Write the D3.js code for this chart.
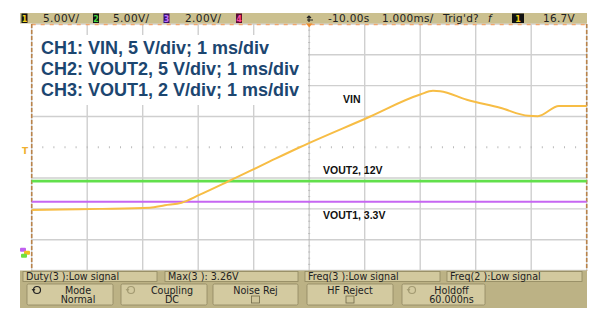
<!DOCTYPE html>
<html>
<head>
<meta charset="utf-8">
<script src="https://cdn.jsdelivr.net/npm/d3@7/dist/d3.min.js"></script>
<style>
  html, body { margin: 0; padding: 0; background: #fff; }
  svg { display: block; }
  .scope { font-family: "DejaVu Sans", sans-serif; }
</style>
</head>
<body>
<div id="chart"></div>
<script>
// time base: 1 ms/div, 10 divisions
var timeMs = [-5.0, -4.45, -3.77, -2.87, -2.6, -2.3, -1.97, -1.46, -0.71, -0.17, 1.04, 2.0, 2.23, 2.36, 2.84, 3.44, 3.95, 4.12, 4.5, 5.0];
// CH1 VIN, volts
var vin = [6.9, 7.0, 7.1, 7.3, 7.7, 8.1, 9.4, 11.55, 14.8, 17.1, 21.85, 25.65, 26.25, 26.2, 24.8, 23.5, 22.2, 22.15, 23.8, 23.8];
// CH2 VOUT2 and CH3 VOUT1, volts
var flatTime = [-5.0, 5.0];
var vout2 = [11.6, 11.6];
var vout1 = [3.3, 3.3];

var channelLabels = ["5.00V/", "5.00V/", "2.00V/"];
var notes = ["CH1: VIN, 5 V/div; 1 ms/div", "CH2: VOUT2, 5 V/div; 1 ms/div", "CH3: VOUT1, 2 V/div; 1 ms/div"];
var statusText = ["Duty(3 ):Low signal", "Max(3 ): 3.26V", "Freq(3 ):Low signal", "Freq(2 ):Low signal"];
var buttons = [["Mode", "Normal"], ["Coupling", "DC"], ["Noise Rej", ""], ["HF Reject", ""], ["Holdoff", "60.000ns"]];

(function () {
    var width = 600, height = 317;
    var left = 31.7, right = 586.7, plotTop = 24, plotBottom = 270.5;
    var groundDiv = -3.42;

    var svg = d3.select("#chart").append("svg")
        .attr("width", width).attr("height", height)
        .attr("class", "scope");

    var x = d3.scaleLinear().domain([-5, 5]).range([left, right]);
    var div = d3.scaleLinear().domain([-4, 4]).range([plotBottom, plotTop]);

    function voltScale(vPerDiv) {
        return d3.scaleLinear()
            .domain([(-4 - groundDiv) * vPerDiv, (4 - groundDiv) * vPerDiv])
            .range([plotBottom, plotTop]);
    }
    var y1 = voltScale(5), y2 = voltScale(5), y3 = voltScale(2);

    // grid
    var grid = svg.append("g");
    grid.selectAll("line.v").data(d3.range(-5, 6)).enter().append("line")
        .attr("x1", function (d) { return x(d); }).attr("x2", function (d) { return x(d); })
        .attr("y1", plotTop).attr("y2", plotBottom)
        .attr("stroke", "#cfcfcf").attr("stroke-width", 1.4);
    grid.selectAll("line.h").data(d3.range(-4, 5)).enter().append("line")
        .attr("y1", function (d) { return div(d); }).attr("y2", function (d) { return div(d); })
        .attr("x1", left).attr("x2", right)
        .attr("stroke", function (d) { return d === 0 ? "none" : "#cfcfcf"; })
        .attr("stroke-width", 1.4);

    // center minor ticks
    grid.selectAll("line.tx").data(d3.range(-5, 5.01, 0.2)).enter().append("line")
        .attr("x1", function (d) { return x(d); }).attr("x2", function (d) { return x(d); })
        .attr("y1", div(0) - 1).attr("y2", div(0) + 1)
        .attr("stroke", "#bbbbbb").attr("stroke-width", 1);
    grid.selectAll("line.ty").data(d3.range(-4, 4.01, 0.2)).enter().append("line")
        .attr("y1", function (d) { return div(d); }).attr("y2", function (d) { return div(d); })
        .attr("x1", x(0) - 1).attr("x2", x(0) + 1)
        .attr("stroke", "#bbbbbb").attr("stroke-width", 1);

    // borders
    svg.append("line").attr("x1", left).attr("x2", right).attr("y1", plotTop + 0.5).attr("y2", plotTop + 0.5)
        .attr("stroke", "#f2a56a").attr("stroke-width", 1.5).attr("stroke-dasharray", "4,5");
    [left, right].forEach(function (px) {
        svg.append("line").attr("x1", px).attr("x2", px).attr("y1", plotTop).attr("y2", plotBottom)
            .attr("stroke", "#b9834a").attr("stroke-width", 1.6).attr("stroke-dasharray", "4,2");
    });

    // trigger position marker
    svg.append("path")
        .attr("d", "M" + (x(0) - 3.5) + "," + (plotTop - 1) + "L" + (x(0) + 3.5) + "," + (plotTop - 1) + "L" + x(0) + "," + (plotTop + 3.5) + "Z")
        .attr("fill", "#f08a2a");

    // trigger level marker
    svg.append("text").attr("x", 22).attr("y", y1(16.7) + 4)
        .attr("font-size", 9).attr("font-weight", "bold").attr("fill", "#f0b030").text("T");

    // ground markers
    [["#c060f0", 20, -3], ["#f0c020", 24, 0], ["#70e040", 21, 3]].forEach(function (m) {
        svg.append("rect").attr("x", m[1]).attr("y", y1(0) - 2 + m[2])
            .attr("width", 6).attr("height", 4).attr("rx", 1).attr("fill", m[0]);
    });

    // traces
    var line = d3.line().curve(d3.curveMonotoneX);
    svg.append("path")
        .attr("d", line(flatTime.map(function (t, i) { return [x(t), y3(vout1[i])]; })))
        .attr("fill", "none").attr("stroke", "#c666f2").attr("stroke-width", 2);
    svg.append("path")
        .attr("d", line(flatTime.map(function (t, i) { return [x(t), y2(vout2[i])]; })))
        .attr("fill", "none").attr("stroke", "#62e04c").attr("stroke-width", 2.6);
    svg.append("path")
        .attr("d", line(timeMs.map(function (t, i) { return [x(t), y1(vin[i])]; })))
        .attr("fill", "none").attr("stroke", "#f7bd45").attr("stroke-width", 2);

    // trace labels
    var lab = svg.append("g").attr("font-family", "Liberation Sans, Arial, sans-serif")
        .attr("font-weight", "bold").attr("font-size", 10.5).attr("fill", "#111");
    lab.append("text").attr("x", 343).attr("y", 103).text("VIN");
    lab.append("text").attr("x", 323).attr("y", 173.5).text("VOUT2, 12V");
    lab.append("text").attr("x", 323).attr("y", 219).text("VOUT1, 3.3V");

    // annotation box
    svg.append("rect").attr("x", 33).attr("y", 35).attr("width", 275).attr("height", 70).attr("fill", "#fff");
    svg.append("g").selectAll("text").data(notes).enter().append("text")
        .attr("x", 41).attr("y", function (d, i) { return 53.5 + i * 21; })
        .attr("font-family", "Liberation Sans, Arial, sans-serif")
        .attr("font-weight", "bold").attr("font-size", 18).attr("fill", "#1c4670")
        .text(function (d) { return d; });

    // top status bar
    var bar = svg.append("g");
    bar.append("rect").attr("x", 20).attr("y", 13).attr("width", 567).attr("height", 10.5).attr("fill", "#cbc08f");
    var chBoxes = [[21.5, "#111", "#f2d21c", "1"], [93, "#111", "#45d640", "2"], [163.5, "#3a106a", "#c070ff", "3"], [236, "#5a0a30", "#ff4aa0", "4"]];
    chBoxes.forEach(function (b) {
        bar.append("rect").attr("x", b[0]).attr("y", 13.5).attr("width", 6).attr("height", 9.5).attr("fill", b[1]);
        bar.append("text").attr("x", b[0] + 3).attr("y", 21.5).attr("text-anchor", "middle")
            .attr("font-size", 8).attr("font-weight", "bold").attr("fill", b[2]).text(b[3]);
    });
    [43, 113, 185].forEach(function (px, i) {
        bar.append("text").attr("x", px).attr("y", 22).attr("font-size", 10.5).attr("fill", "#222")
            .attr("letter-spacing", 0.4).text(channelLabels[i]);
    });
    var topRight = [[328, "-10.00s"], [382, "1.000ms/"], [443, "Trig'd?"], [543, "16.7V"]];
    topRight.forEach(function (t) {
        bar.append("text").attr("x", t[0]).attr("y", 22).attr("font-size", 10.5).attr("fill", "#222")
            .attr("letter-spacing", 0.3).text(t[1]);
    });
    bar.append("text").attr("x", 488).attr("y", 22).attr("font-size", 10).attr("font-style", "italic").attr("fill", "#222").text("f");
    bar.append("rect").attr("x", 512).attr("y", 13.5).attr("width", 12).attr("height", 9.5).attr("fill", "#111");
    bar.append("text").attr("x", 518).attr("y", 21.5).attr("text-anchor", "middle")
        .attr("font-size", 8).attr("font-weight", "bold").attr("fill", "#f2d21c").text("1");
    bar.append("path").attr("d", "M307,20 L313,20 M309,17 L309,22 M307,18 L309,16 L311,18")
        .attr("stroke", "#222").attr("stroke-width", 1.2).attr("fill", "none");

    // bottom softkey panel
    var panel = svg.append("g");
    panel.append("rect").attr("x", 20).attr("y", 270.5).attr("width", 567).attr("height", 37.5).attr("fill", "#bcb285");
    var statusX = [[23, 157], [165, 298], [305, 440], [447, 582]];
    statusX.forEach(function (s, i) {
        panel.append("rect").attr("x", s[0]).attr("y", 271.5).attr("width", s[1] - s[0]).attr("height", 10)
            .attr("fill", "#d2c99e").attr("stroke", "#8f875f").attr("stroke-width", 0.8);
        panel.append("text").attr("x", s[0] + 3).attr("y", 280.3).attr("font-size", 9.6).attr("fill", "#222")
            .text(statusText[i]);
    });
    var btnX = [[27, 113], [121, 207], [213, 298], [307, 393], [402, 485]];
    btnX.forEach(function (b, i) {
        var cx = (b[0] + b[1]) / 2 + (i === 0 || i === 1 || i === 4 ? 8 : 0);
        panel.append("rect").attr("x", b[0]).attr("y", 284).attr("width", b[1] - b[0]).attr("height", 21)
            .attr("rx", 1.5).attr("fill", "#d3caa0").attr("stroke", "#8f875f").attr("stroke-width", 0.8);
        panel.append("text").attr("x", cx).attr("y", 293.5).attr("text-anchor", "middle")
            .attr("font-size", 9.6).attr("fill", "#222").text(buttons[i][0]);
        if (buttons[i][1]) {
            panel.append("text").attr("x", cx).attr("y", 303).attr("text-anchor", "middle")
                .attr("font-size", 9.6).attr("fill", "#222").text(buttons[i][1]);
        } else {
            panel.append("rect").attr("x", cx - 4).attr("y", 296).attr("width", 8).attr("height", 7)
                .attr("fill", "#cfc69b").attr("stroke", "#6f6848").attr("stroke-width", 0.8);
        }
    });
    // knob icons
    [[37, "#222"], [131, "#a39b72"], [412, "#a39b72"]].forEach(function (k) {
        panel.append("circle").attr("cx", k[0]).attr("cy", 290).attr("r", 3.5)
            .attr("fill", "none").attr("stroke", k[1]).attr("stroke-width", 1.2);
        panel.append("path").attr("d", "M" + (k[0] - 5) + ",289 L" + (k[0] - 3.5) + ",291 L" + (k[0] - 2) + ",289")
            .attr("fill", "none").attr("stroke", k[1]).attr("stroke-width", 1);
    });
}());
</script>
</body>
</html>
